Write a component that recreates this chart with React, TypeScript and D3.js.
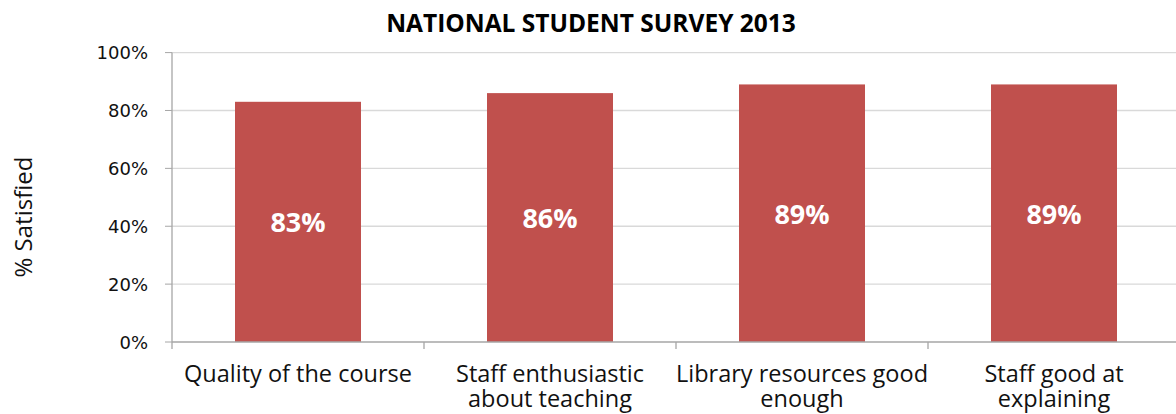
import React, { useEffect, useRef } from 'react';
import * as d3 from 'd3';

const categories = [
  ['Quality of the course'],
  ['Staff enthusiastic', 'about teaching'],
  ['Library resources good', 'enough'],
  ['Staff good at', 'explaining'],
];
const values = [0.83, 0.86, 0.89, 0.89];
const yTicks = [0, 0.2, 0.4, 0.6, 0.8, 1.0];
const title = 'NATIONAL STUDENT SURVEY 2013';
const yTitle = '% Satisfied';

export default function App() {
  const svgRef = useRef<SVGSVGElement>(null);

  useEffect(() => {
    if (!svgRef.current) return;
    const W = 1176, H = 414;
    const svg = d3.select(svgRef.current);
    svg.selectAll('*').remove();

    const left = 172, right = 1180, top = 52.6, bottom = 342;

    const x = d3.scaleBand<number>()
      .domain(d3.range(values.length))
      .range([left, right])
      .paddingInner(0.5).paddingOuter(0.25);
    const band = d3.scaleBand<number>().domain(d3.range(values.length)).range([left, right]);
    const y = d3.scaleLinear().domain([0, 1]).range([bottom, top]);

    svg.append('rect').attr('width', W).attr('height', H).attr('fill', '#fff');

    // gridlines
    svg.append('g').selectAll('line').data(yTicks.filter(t => t > 0)).join('line')
      .attr('x1', left).attr('x2', W)
      .attr('y1', d => y(d)).attr('y2', d => y(d))
      .attr('stroke', '#d9d9d9').attr('stroke-width', 1.3);

    // y tick labels + marks
    const yg = svg.append('g');
    yg.selectAll('line').data(yTicks).join('line')
      .attr('x1', left - 7).attr('x2', left)
      .attr('y1', d => y(d)).attr('y2', d => y(d))
      .attr('stroke', '#a6a6a6').attr('stroke-width', 1);
    yg.selectAll('text').data(yTicks).join('text')
      .attr('x', 148).attr('y', d => y(d) + 6.6)
      .attr('text-anchor', 'end')
      .attr('font-family', 'DejaVu Sans').attr('font-size', '18px').attr('fill', '#111')
      .text(d => d3.format('.0%')(d));

    // bars
    svg.append('g').selectAll('rect').data(values).join('rect')
      .attr('x', (_, i) => x(i)!).attr('width', x.bandwidth())
      .attr('y', d => y(d)).attr('height', d => bottom - y(d))
      .attr('fill', '#c0504d');

    // bar value labels
    svg.append('g').selectAll('text').data(values).join('text')
      .attr('x', (_, i) => x(i)! + x.bandwidth() / 2)
      .attr('y', d => (y(d) + bottom) / 2 + 10.5)
      .attr('text-anchor', 'middle')
      .attr('font-family', 'Open Sans').attr('font-weight', 'bold')
      .attr('font-size', '27px').attr('fill', '#fff')
      .text(d => d3.format('.0%')(d));

    // axes lines
    svg.append('line').attr('x1', left).attr('x2', left).attr('y1', top).attr('y2', bottom)
      .attr('stroke', '#a6a6a6').attr('stroke-width', 1.3);
    svg.append('line').attr('x1', left).attr('x2', W).attr('y1', bottom).attr('y2', bottom)
      .attr('stroke', '#a6a6a6').attr('stroke-width', 1.3);
    svg.append('g').selectAll('line').data(d3.range(values.length + 1)).join('line')
      .attr('x1', i => left + i * band.bandwidth()).attr('x2', i => left + i * band.bandwidth())
      .attr('y1', bottom).attr('y2', bottom + 7)
      .attr('stroke', '#a6a6a6').attr('stroke-width', 1.3);

    // category labels
    const xl = svg.append('g').selectAll('text').data(categories).join('text')
      .attr('x', (_, i) => band(i)! + band.bandwidth() / 2)
      .attr('y', 382)
      .attr('text-anchor', 'middle')
      .attr('font-family', 'Open Sans').attr('font-size', '23.5px').attr('fill', '#111');
    xl.selectAll('tspan').data(d => d).join('tspan')
      .attr('x', function () { return (this.parentNode as SVGTextElement).getAttribute('x'); })
      .attr('dy', (_, j) => (j === 0 ? 0 : 25))
      .text(d => d);

    // title
    svg.append('text').attr('x', 591).attr('y', 32)
      .attr('text-anchor', 'middle')
      .attr('font-family', 'Open Sans').attr('font-weight', 'bold')
      .attr('font-size', '24.5px').attr('fill', '#000').text(title);

    // y axis title
    svg.append('text')
      .attr('transform', 'translate(32,217) rotate(-90)')
      .attr('text-anchor', 'middle')
      .attr('font-family', 'Open Sans').attr('font-size', '24px').attr('fill', '#111')
      .text(yTitle);
  }, []);

  return (
    <svg ref={svgRef} width={1176} height={414}
      style={{ position: 'absolute', left: 0, top: 0, display: 'block' }} />
  );
}
